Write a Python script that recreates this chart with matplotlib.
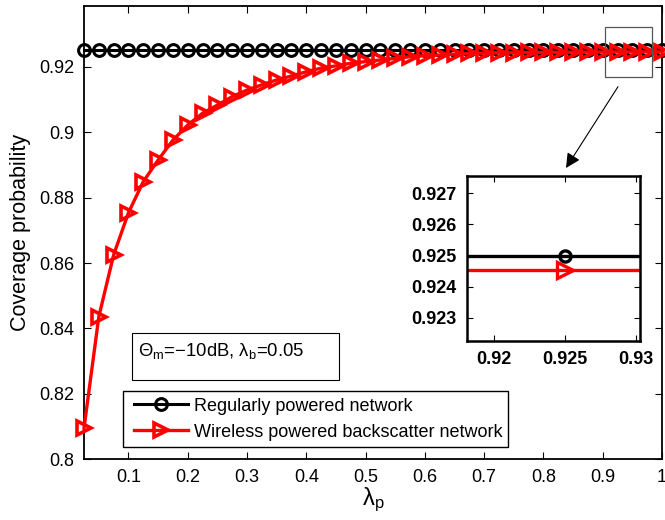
import matplotlib
matplotlib.use("Agg")
import matplotlib.pyplot as plt
from matplotlib.patches import Rectangle

plt.rcParams['font.family'] = ['Liberation Sans', 'DejaVu Sans']
plt.rcParams['mathtext.fontset'] = 'custom'
plt.rcParams['mathtext.rm'] = 'Liberation Sans'
plt.rcParams['mathtext.it'] = 'Liberation Sans'

# Density of power beacons
lambda_p = [0.025, 0.05, 0.075, 0.1, 0.125, 0.15, 0.175, 0.2, 0.225, 0.25,
            0.275, 0.3, 0.325, 0.35, 0.375, 0.4, 0.425, 0.45, 0.475, 0.5,
            0.525, 0.55, 0.575, 0.6, 0.625, 0.65, 0.675, 0.7, 0.725, 0.75,
            0.775, 0.8, 0.825, 0.85, 0.875, 0.9, 0.925, 0.95, 0.975, 1.0]

# Coverage probability, regularly powered network
cov_regular = [0.925] * len(lambda_p)

# Coverage probability, wireless powered backscatter network
cov_backscatter = [0.8095, 0.8436, 0.8625, 0.8754, 0.8849, 0.8915, 0.8976, 0.9022,
                   0.9058, 0.9083, 0.9109, 0.9129, 0.9145, 0.9160, 0.9172, 0.9185,
                   0.9196, 0.9203, 0.9211, 0.9216, 0.9221, 0.9226, 0.9231, 0.9234,
                   0.9236, 0.9239, 0.9241, 0.9242, 0.9243, 0.9243, 0.9244, 0.9244,
                   0.92445, 0.92448, 0.9245, 0.92452, 0.92455, 0.92456, 0.92457, 0.92458]

x_ticks = [0.1, 0.2, 0.3, 0.4, 0.5, 0.6, 0.7, 0.8, 0.9, 1.0]
x_ticklabels = ['0.1', '0.2', '0.3', '0.4', '0.5', '0.6', '0.7', '0.8', '0.9', '1']
y_ticks = [0.8, 0.82, 0.84, 0.86, 0.88, 0.9, 0.92]
y_ticklabels = ['0.8', '0.82', '0.84', '0.86', '0.88', '0.9', '0.92']

inset_x_ticks = [0.92, 0.925, 0.93]
inset_x_ticklabels = ['0.92', '0.925', '0.93']
inset_y_ticks = [0.923, 0.924, 0.925, 0.926, 0.927]
inset_y_ticklabels = ['0.923', '0.924', '0.925', '0.926', '0.927']

W, H = 665, 520
fig = plt.figure(figsize=(W / 100, H / 100), dpi=100)


def fig_box(x0, y_top, x1, y_bot):
    """Pixel box (top-left origin) -> figure fraction [l, b, w, h]."""
    return [x0 / W, 1 - y_bot / H, (x1 - x0) / W, (y_bot - y_top) / H]


ax = fig.add_axes(fig_box(84, 6, 662, 459.3))
ax.plot(lambda_p, cov_regular, color='black', lw=2.2, marker='o', ms=8.5,
        mfc='none', mew=2.2, clip_on=False, zorder=3,
        label='Regularly powered network')
ax.plot(lambda_p, cov_backscatter, color='red', lw=2.4, marker='>', ms=10.5,
        mfc='none', mew=2.6, clip_on=False, zorder=4,
        label='Wireless powered backscatter network')

ax.set_xlim(0.025, 1.0)
ax.set_ylim(0.8, 0.9386)
ax.set_xticks(x_ticks)
ax.set_xticklabels(x_ticklabels)
ax.set_yticks(y_ticks)
ax.set_yticklabels(y_ticklabels)
ax.tick_params(direction='in', length=5, width=0.8, top=True, right=True,
               labelsize=13, pad=7)
for sp in ax.spines.values():
    sp.set_linewidth(1.3)
ax.set_xlabel(r'$\mathregular{λ_p}$', fontsize=17, labelpad=0)
ax.set_ylabel('Coverage probability', fontsize=15.5, labelpad=6)

# Zoom-region marker
ax.add_patch(Rectangle((0.9038, 0.9170), 0.0788, 0.0153, fill=False,
                       edgecolor='#555555', lw=0.9, zorder=5))

# Legend with a square frame
fig.patches.append(Rectangle((122.7 / W, 1 - 446.7 / H), (508 - 122.7) / W,
                             (446.7 - 390.7) / H, transform=fig.transFigure,
                             facecolor='white', edgecolor='black', lw=1.0, zorder=6))
handles, labels = ax.get_legend_handles_labels()
leg = fig.legend(handles, labels, loc='center left',
                 bbox_to_anchor=(134.3 / W, 1 - 419.2 / H),
                 bbox_transform=fig.transFigure, fontsize=13,
                 frameon=False, borderpad=0, borderaxespad=0,
                 handlelength=54 / 18.06, handletextpad=6 / 18.06,
                 labelspacing=0.5)
leg.set_zorder(7)

# Parameter box
fig.patches.append(Rectangle((131.7 / W, 1 - 380 / H), (339 - 131.7) / W, (380 - 333.3) / H,
                             transform=fig.transFigure, fill=False,
                             edgecolor='black', lw=0.8))
fig.text(138.3 / W, 1 - 356 / H, 'Θ$_\\mathregular{m}$=−10dB, λ$_\\mathregular{b}$=0.05',
         fontsize=13.3, ha='left', va='baseline')

# Arrow from zoom region to inset
ax.annotate('', xy=(566, H - 168), xycoords='figure pixels',
            xytext=(618, H - 86.7), textcoords='figure pixels',
            arrowprops=dict(arrowstyle='-|>', color='black', lw=0.8,
                            mutation_scale=22, shrinkA=0, shrinkB=0))

# Inset
axi = fig.add_axes(fig_box(466.7, 176, 640, 341))
axi.plot([0.9181, 0.9303], [cov_regular[36]] * 2, color='black', lw=2.4)
axi.plot([0.9181, 0.9303], [cov_backscatter[36]] * 2, color='red', lw=2.4)
axi.plot([lambda_p[36]], [cov_regular[36]], color='black', marker='o', ms=8,
         mfc='none', mew=2.4)
axi.plot([lambda_p[36]], [cov_backscatter[36]], color='red', marker='>', ms=11,
         mfc='none', mew=2.4)
axi.set_xlim(0.9181, 0.9303)
axi.set_ylim(0.92225, 0.92756)
axi.set_xticks(inset_x_ticks)
axi.set_xticklabels(inset_x_ticklabels)
axi.set_yticks(inset_y_ticks)
axi.set_yticklabels(inset_y_ticklabels)
axi.tick_params(direction='in', length=4, width=0.8, top=True, right=True,
                labelsize=13, pad=7)
for lab in axi.get_xticklabels() + axi.get_yticklabels():
    lab.set_fontweight('bold')
for sp in axi.spines.values():
    sp.set_linewidth(1.8)

fig.savefig('out.png', dpi=100)
